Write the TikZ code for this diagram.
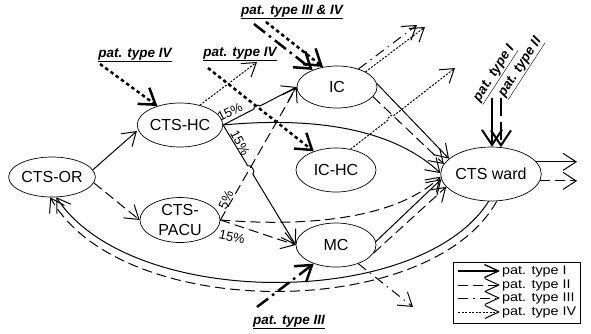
\documentclass[tikz,border=0pt]{standalone}
\usepackage{fontspec}
\setmainfont{Liberation Sans}
\usetikzlibrary{arrows.meta,shapes.geometric,calc}
\begin{document}
\begin{tikzpicture}[x=1pt,y=-1pt,
  st/.style={ellipse,draw,line width=0.7pt,minimum width=80pt,minimum height=44pt,inner sep=0pt,font=\fontsize{16}{20}\selectfont,align=center},
  ar/.style={-{Straight Barb[length=13pt,width=17pt]},line width=1pt},
  tI/.style={ar},
  tII/.style={ar,dash pattern=on 10pt off 5pt},
  tIII/.style={ar,dash pattern=on 10pt off 5pt on 1.5pt off 5pt},
  tIV/.style={ar,dash pattern=on 2pt off 1.5pt},
  lg/.style={-{Straight Barb[length=14pt,width=13pt]}},
  thk/.style={-{Straight Barb[length=15pt,width=20pt]},line width=2.5pt},
  thkIII/.style={thk,dash pattern=on 14pt off 5pt on 2.5pt off 5pt},
  thkIV/.style={thk,dash pattern=on 3.5pt off 3pt},
  thkII/.style={thk,line width=2pt,dash pattern=on 18pt off 6pt},
  plab/.style={font=\fontsize{13.5}{15}\selectfont\bfseries\itshape,inner sep=1pt},
  pct/.style={font=\fontsize{13}{14}\selectfont,inner sep=0.5pt},
  legt/.style={font=\fontsize{12.5}{13}\selectfont,anchor=west,inner sep=0pt},
]
\useasboundingbox (0,0) rectangle (591,333);

% nodes
\node[st,minimum height=40pt] (or) at (52,177) {CTS-OR};
\node[st] (hc) at (180,125) {CTS-HC};
\node[st,minimum height=45pt] (pacu) at (180,220) {CTS-\\PACU};
\node[st,minimum height=42pt] (ic) at (337,87) {IC};
\node[st] (ichc) at (336,170) {IC-HC};
\node[st] (mc) at (336,245) {MC};
\node[st,minimum width=90pt,minimum height=54pt] (ward) at (491,174) {CTS ward};

% labels
\node[plab] (lIVa) at (135,55) {\underline{pat. type IV}};
\node[plab] (lIVb) at (240,54) {\underline{pat. type IV}};
\node[plab] (lIIIIV) at (292,12) {\underline{pat. type III \& IV}};
\node[plab] (lIII) at (289,322) {\underline{pat. type III}};
\node[plab,rotate=57] (lI) at (495,74) {\underline{pat. type I}};
\node[plab,rotate=57] (lII) at (521,68) {\underline{pat. type II}};

% coordinates
\coordinate (s1) at (100,64);
\coordinate (s2) at (208,68);
\coordinate (s3) at (254,24);
\coordinate (s4) at (266,22);
\coordinate (s5) at (257,307);
\coordinate (s6) at (492,98);
\coordinate (s7) at (501,98);
\coordinate (e1) at (257,62);
\coordinate (e2) at (417,25);
\coordinate (e3) at (425,27);
\coordinate (e4) at (455,68);
\coordinate (e5) at (413,307);
\coordinate (e6) at (577,167);
\coordinate (e7) at (577,178);

% type I
\draw[tI] (or.10) -- (hc.west |- 0,131);
\draw[tI] (hc.east) -- ($(hc.east)!0.42!(ic.west)$) to[bend left=90] ($(hc.east)!0.50!(ic.west)$) -- (ic.west);
\draw[tI] (hc.east) -- ($(hc.east)!0.34!(mc.west)$) to[bend left=90] ($(hc.east)!0.41!(mc.west)$) -- (mc.west);
\draw[tI] (hc.east) .. controls (330,115) and (400,135) .. (ward.179);
\draw[tI] (ic.5) -- (ward.160);
\draw[tI] (mc.5) -- (ward.186);
\draw[tI] (ward.-95) .. controls (420,310) and (130,310) .. (or.-78);
\draw[tI] (ward.15) -- (ward.15 -| e6);
\draw[thk,line width=2pt] (s6) -- (s6 |- ward.88);

% type II
\draw[tII] (or.-8) -- (pacu.west);
\draw[tII] (pacu.east) -- (ic.west);
\draw[tII] (pacu.east) -- (mc.west);
\draw[tII] (pacu.east) .. controls (320,228) and (400,215) .. (ward.183);
\draw[tII] (ic.-15) -- (ward.168);
\draw[tII] (mc.-12) -- (ward.196);
\draw[tII] (ward.-78) .. controls (430,322) and (120,322) .. (or.-95);
\draw[tII] (ward.-8) -- (ward.-8 -| e7);
\draw[thkII] (s7) -- (s7 |- ward.70);

% type III
\draw[thkIII] (s3) -- (ic.145);
\draw[tIII] (ic.40) -- (e2);
\draw[tIII] (mc.-40) -- (e5);
\draw[thkIII] (s5) -- (mc.220);

% type IV
\draw[thkIV] (s1) -- (hc.140);
\draw[thkIV] (s2) -- (ichc.140);
\draw[thkIV] (s4) -- (ic.125);
\draw[tIV] (hc.45) -- (e1);
\draw[tIV] (ic.28) -- (e3);
\draw[tIV] (ichc.55) -- ($(ichc.55)!0.36!(e4)$) to[bend left=90] ($(ichc.55)!0.41!(e4)$) -- (e4);

% percentages
\node[pct,rotate=27] (p1) at (230,112) {15\%};
\node[pct,rotate=-62] (p2) at (240,143) {15\%};
\node[pct,rotate=65] (p3) at (226,200) {5\%};
\node[pct,rotate=-12] (p4) at (232,237) {15\%};

% legend
\node[draw,line width=0.8pt,minimum width=127pt,minimum height=61pt,inner sep=0pt] (leg) at (516.5,292.5) {};
\coordinate (la1) at (458,271); \coordinate (lb1) at (500,271);
\coordinate (la2) at (458,285); \coordinate (lb2) at (500,285);
\coordinate (la3) at (458,298); \coordinate (lb3) at (500,298);
\coordinate (la4) at (458,312); \coordinate (lb4) at (500,312);
\draw[tI,lg,line width=1.3pt] (la1) -- (lb1);
\draw[tII,lg] (la2) -- (lb2);
\draw[tIII,lg] (la3) -- (lb3);
\draw[tIV,lg] (la4) -- (lb4);
\node[legt] (t1) at (502,271) {\scalebox{1.15}[1]{pat. type I}};
\node[legt] (t2) at (502,285) {\scalebox{1.15}[1]{pat. type II}};
\node[legt] (t3) at (502,298) {\scalebox{1.15}[1]{pat. type III}};
\node[legt] (t4) at (502,312) {\scalebox{1.15}[1]{pat. type IV}};
\end{tikzpicture}
\end{document}
